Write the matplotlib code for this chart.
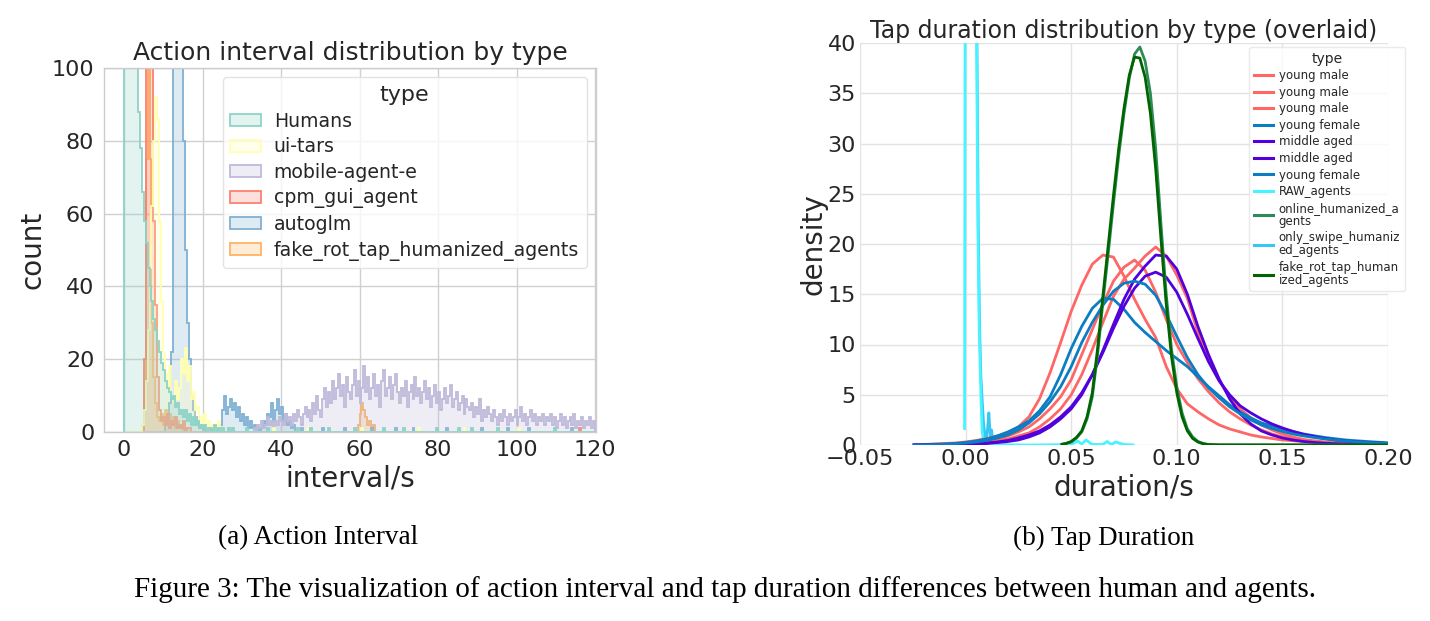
import numpy as np
import matplotlib
matplotlib.use("Agg")
import matplotlib.pyplot as plt
from matplotlib.patches import Patch
from matplotlib.lines import Line2D

# ---------------- Left panel data: histogram counts (bin width 0.5 s) ----------------
bin_width = 0.5
x_max = 120.0
hist_types = ["Humans", "ui-tars", "mobile-agent-e", "cpm_gui_agent", "autoglm",
              "fake_rot_tap_humanized_agents"]
hist_colors = ["#8dd3c7", "#ffffb3", "#bebada", "#fb8072", "#80b1d3", "#fdb462"]

humans_start = 0.0
humans_counts = [420, 390, 330, 260, 200, 150, 104, 88, 78, 66, 58, 52, 45, 40, 36, 31,
                 28, 25, 22, 19, 17, 14, 12, 11, 9, 10, 7, 8, 5, 6, 4, 6, 3, 5, 2, 4,
                 2, 3, 1, 2, 1, 2, 0, 1, 1, 0, 2, 0, 1, 0, 1, 0, 0, 1, 0, 1]
humans_sparse = [31.0, 36.5, 44.0, 47.5, 52.0, 58.5, 66.0, 71.0, 79.5, 85.0, 88.5, 95.0, 109.5]

uitars_start = 4.5
uitars_counts = [2, 6, 14, 28, 45, 62, 80, 92, 86, 58, 36, 22, 16, 12, 18, 10, 8, 14, 9,
                 12, 20, 16, 23, 14, 18, 9, 11, 6, 7, 3, 4, 2, 5, 1, 3, 1, 2, 0, 1, 3, 0, 1]
uitars_sparse = [38.0, 46.5, 60.5, 75.0, 86.5, 100.5]

mobile_start = 33.0
mobile_counts = [1, 0, 2, 1, 3, 1, 2, 4, 2, 3,
                 1, 3, 2, 4, 3, 2, 5, 3, 4, 2,
                 5, 3, 6, 4, 2, 5, 7, 4, 6, 3,
                 8, 5, 10, 6, 4, 9, 12, 7, 11, 8,
                 14, 9, 12, 16, 10, 13, 7, 15, 11, 9,
                 13, 17, 10, 14, 8, 12, 18, 11, 15, 9,
                 12, 16, 10, 13, 7, 14, 17, 10, 12, 15,
                 9, 13, 16, 11, 8, 12, 10, 14, 7, 11,
                 13, 9, 15, 10, 12, 8, 11, 14, 9, 12,
                 7, 10, 13, 8, 11, 6, 9, 12, 8, 10,
                 13, 7, 9, 11, 6, 8, 10, 5, 9, 7,
                 6, 8, 4, 7, 5, 9, 3, 6, 4, 7,
                 5, 3, 6, 4, 2, 5, 3, 6, 4, 2,
                 5, 3, 4, 6, 2, 4, 7, 3, 5, 2,
                 4, 6, 3, 5, 2, 4, 3, 5, 2, 4,
                 3, 5, 2, 4, 1, 3, 5, 2, 4, 1,
                 3, 4, 2, 5, 1, 3, 2, 4, 1, 3,
                 2, 4, 1, 3]

cpm_start = 5.0
cpm_counts = [20, 160, 190, 170, 130, 58, 35, 15, 6, 3, 4, 2, 5, 1, 3, 2, 4, 1, 2, 1, 3, 0, 1, 1]
cpm_sparse = [116.0]

autoglm_start = 10.5
autoglm_counts = [2, 5, 8, 22, 180, 250, 270, 220, 160, 80, 50, 30, 20, 10, 6, 3, 4, 1, 2,
                  0, 1, 0, 0, 1, 0, 0, 0, 1,
                  2, 6, 10, 5, 7, 9, 6, 8, 4, 7, 3, 5, 2, 4, 1, 3, 1, 2, 0, 1, 0, 1,
                  3, 2, 5, 4, 8, 3, 6, 9, 5, 7, 3, 5, 2, 3, 1, 2]
autoglm_sparse = [45.0, 50.5, 56.0, 63.0, 69.0, 73.5, 82.0, 91.0, 97.5, 103.0, 114.0]

fake_start = 5.0
fake_counts = [8, 75, 140, 75, 30, 15, 8, 4, 3, 5, 2, 6, 3, 5, 2, 4, 1, 3, 1, 2, 0, 1]
fake_bump_start = 59.5
fake_bump_counts = [2, 5, 8, 6, 4, 2, 3, 1, 2]

# ---------------- Right panel data: KDE curves ----------------
kde_x = [-0.025, -0.02, -0.015, -0.01, -0.005, 0.0, 0.005, 0.01, 0.015, 0.02, 0.025,
         0.03, 0.035, 0.04, 0.045, 0.05, 0.055, 0.06, 0.065, 0.07, 0.075, 0.08, 0.085,
         0.09, 0.095, 0.1, 0.105, 0.11, 0.115, 0.12, 0.125, 0.13, 0.135, 0.14, 0.145,
         0.15, 0.155, 0.16, 0.165, 0.17, 0.175, 0.18, 0.185, 0.19, 0.195, 0.2]
young_male_1 = [0.0, 0.05, 0.1, 0.15, 0.2, 0.3, 0.45, 0.65, 0.9, 1.15, 1.8,
                2.8, 4.6, 7.2, 10.2, 13.3, 15.9, 18.0, 18.9, 18.7, 16.8, 14.5, 12.5,
                10.7, 7.8, 5.6, 4.1, 3.3, 2.6, 2.0, 1.6, 1.3, 1.0, 0.8, 0.65,
                0.5, 0.42, 0.35, 0.3, 0.25, 0.2, 0.17, 0.13, 0.1, 0.08, 0.06]
young_male_2 = [0.0, 0.0, 0.02, 0.05, 0.08, 0.1, 0.18, 0.3, 0.45, 0.6, 0.9,
                1.2, 1.8, 2.6, 3.6, 5.0, 7.0, 9.5, 12.2, 14.8, 16.5, 17.6, 18.8,
                19.7, 18.8, 16.9, 14.6, 11.2, 8.4, 6.4, 4.8, 3.6, 2.7, 2.0, 1.5,
                1.1, 0.8, 0.55, 0.42, 0.3, 0.22, 0.15, 0.11, 0.08, 0.06, 0.04]
young_male_3 = [0.0, 0.0, 0.03, 0.07, 0.12, 0.2, 0.28, 0.4, 0.6, 0.9, 1.3,
                1.8, 2.6, 3.6, 4.8, 6.5, 9.0, 11.5, 14.0, 16.3, 17.7, 18.4, 17.4,
                15.2, 12.5, 10.0, 8.2, 6.6, 5.3, 4.2, 3.3, 2.6, 2.0, 1.5, 1.1,
                0.8, 0.6, 0.45, 0.33, 0.25, 0.18, 0.13, 0.1, 0.07, 0.05, 0.03]
young_female_1 = [0.0, 0.05, 0.07, 0.1, 0.15, 0.25, 0.4, 0.6, 0.9, 1.3, 1.8,
                  2.4, 3.4, 4.8, 7.0, 9.6, 11.8, 13.6, 14.6, 14.5, 13.5, 12.2, 11.2,
                  10.3, 9.4, 8.6, 7.8, 6.8, 5.8, 4.9, 4.0, 3.3, 2.7, 2.2, 1.9,
                  1.6, 1.35, 1.1, 0.92, 0.75, 0.62, 0.5, 0.42, 0.35, 0.28, 0.22]
young_female_2 = [0.0, 0.0, 0.03, 0.06, 0.12, 0.2, 0.3, 0.45, 0.7, 1.0, 1.5,
                  2.2, 3.1, 4.3, 5.8, 7.8, 10.2, 12.2, 13.9, 15.3, 16.1, 16.3, 16.0,
                  14.9, 13.0, 10.8, 8.7, 7.0, 5.7, 4.7, 3.8, 3.1, 2.5, 2.0, 1.65,
                  1.35, 1.1, 0.9, 0.75, 0.6, 0.5, 0.4, 0.32, 0.25, 0.2, 0.15]
middle_aged_1 = [0.0, 0.0, 0.0, 0.01, 0.03, 0.05, 0.1, 0.15, 0.25, 0.35, 0.5,
                 0.8, 1.2, 1.8, 2.6, 3.6, 5.0, 7.0, 9.4, 12.0, 14.5, 16.5, 17.8,
                 18.9, 18.8, 17.5, 15.0, 11.8, 9.0, 6.6, 4.6, 3.1, 2.1, 1.4, 1.0,
                 0.7, 0.5, 0.35, 0.25, 0.18, 0.13, 0.1, 0.07, 0.05, 0.04, 0.03]
middle_aged_2 = [0.0, 0.0, 0.01, 0.03, 0.06, 0.1, 0.15, 0.2, 0.3, 0.45, 0.7,
                 1.0, 1.4, 2.0, 2.8, 3.8, 5.2, 7.0, 9.2, 11.6, 13.8, 15.6, 16.8,
                 17.2, 16.7, 15.2, 13.0, 10.6, 8.3, 6.4, 5.0, 3.9, 3.2, 2.6, 2.1,
                 1.7, 1.35, 1.05, 0.85, 0.65, 0.5, 0.4, 0.32, 0.25, 0.2, 0.15]

green_x = [0.045, 0.0475, 0.05, 0.0525, 0.055, 0.0575, 0.06, 0.0625, 0.065, 0.0675,
           0.07, 0.0725, 0.075, 0.0775, 0.08, 0.0825, 0.085, 0.0875, 0.09, 0.0925,
           0.095, 0.0975, 0.1, 0.1025, 0.105, 0.1075, 0.11, 0.1125, 0.115, 0.12, 0.2]
online_humanized = [0.05, 0.15, 0.3, 0.7, 1.3, 2.6, 4.8, 9.0, 14.2, 19.0,
                    24.0, 28.8, 33.0, 36.5, 38.9, 39.6, 38.2, 35.0, 29.5, 22.0,
                    15.0, 9.5, 5.8, 3.2, 1.6, 0.8, 0.35, 0.15, 0.05, 0.01, 0.0]
fake_rot_tap = [0.05, 0.15, 0.35, 0.75, 1.4, 2.8, 5.2, 9.6, 14.8, 19.8,
                24.8, 29.5, 33.5, 36.8, 38.6, 38.5, 36.6, 33.0, 27.5, 20.5,
                14.0, 8.8, 5.2, 2.8, 1.4, 0.65, 0.3, 0.12, 0.04, 0.01, 0.0]

raw_x = [-0.0005, -0.0002, 0.0005, 0.0015, 0.003, 0.0045, 0.0052, 0.0058, 0.0064, 0.007,
         0.0074, 0.0078, 0.0084, 0.009, 0.012, 0.02, 0.03, 0.04, 0.05, 0.053, 0.055,
         0.057, 0.06, 0.065, 0.067, 0.069, 0.071, 0.075, 0.08]
raw_agents = [1.5, 48, 90, 120, 100, 60, 40, 22, 12, 7.0,
              4.0, 1.5, 0.4, 0.1, 0.05, 0.02, 0.0, 0.02, 0.05, 0.4, 0.1,
              0.5, 0.05, 0.05, 0.35, 0.05, 0.3, 0.05, 0.0]
swipe_x = [0.0, 0.002, 0.0045, 0.0054, 0.006, 0.0066, 0.0072, 0.0078, 0.0085, 0.0092,
           0.0098, 0.0104, 0.011, 0.0114, 0.0118, 0.0123, 0.0128, 0.0134, 0.014, 0.016,
           0.02]
only_swipe = [45, 80, 60, 40, 22, 12, 7.0, 4.6, 2.2, 0.8,
              0.6, 1.6, 3.2, 1.8, 0.5, 1.5, 0.4, 0.7, 0.1, 0.02, 0.0]

kde_labels = ["young male", "young male", "young male", "young female", "middle aged",
              "middle aged", "young female", "RAW_agents", "online_humanized_a\ngents",
              "only_swipe_humaniz\ned_agents", "fake_rot_tap_human\nized_agents"]
kde_colors = ["#ff6666", "#ff6666", "#ff6666", "#0b7dc3", "#5200dc", "#5200dc",
              "#0b7dc3", "#45f4ff", "#2e8b57", "#38c6f4", "#006400"]

# ---------------- Figure ----------------
W, H = 1430, 621
fig = plt.figure(figsize=(W / 100, H / 100), dpi=100)
plt.rcParams['font.family'] = ['DejaVu Sans']
TXT = "#262626"

def fig_rect(l, t, r, b):
    return [l / W, 1 - b / H, (r - l) / W, (b - t) / H]

# ---- Left axes ----
ax1 = fig.add_axes(fig_rect(104, 68, 596, 432))
edges = np.arange(0, x_max + bin_width / 2, bin_width)
nb = len(edges) - 1

def full_counts(start, counts, sparse=(), extra=None):
    arr = np.zeros(nb)
    i0 = int(round(start / bin_width))
    arr[i0:i0 + len(counts)] += np.array(counts, dtype=float)
    for s in sparse:
        arr[int(round(s / bin_width))] += 1
    if extra is not None:
        st, ct = extra
        j0 = int(round(st / bin_width))
        arr[j0:j0 + len(ct)] += np.array(ct, dtype=float)
    return arr

series = [
    full_counts(humans_start, humans_counts, humans_sparse),
    full_counts(uitars_start, uitars_counts, uitars_sparse),
    full_counts(mobile_start, mobile_counts),
    full_counts(cpm_start, cpm_counts, cpm_sparse),
    full_counts(autoglm_start, autoglm_counts, autoglm_sparse),
    full_counts(fake_start, fake_counts, extra=(fake_bump_start, fake_bump_counts)),
]
for arr, c in reversed(list(zip(series, hist_colors))):
    ax1.stairs(arr, edges, fill=True, color=c, alpha=0.25, lw=0)
    ax1.stairs(arr, edges, color=c, lw=1.3)

ax1.set_xlim(-5.1, 120.25)
ax1.set_ylim(0, 100)
ax1.set_xticks([0, 20, 40, 60, 80, 100, 120])
ax1.set_yticks([0, 20, 40, 60, 80, 100])
ax1.grid(True, color="#d0d0d0", lw=1.0)
ax1.set_axisbelow(True)
for s in ax1.spines.values():
    s.set_color("#cccccc")
    s.set_linewidth(1.0)
ax1.tick_params(axis="both", labelsize=16, length=0, colors=TXT)
ax1.tick_params(axis="x", pad=6)
ax1.tick_params(axis="y", pad=7)
ax1.set_title("Action interval distribution by type", fontsize=18, color=TXT, pad=6)
ax1.set_xlabel("interval/s", fontsize=20, color=TXT, labelpad=3)
ax1.set_ylabel("count", fontsize=20, color=TXT, labelpad=4)
handles1 = [Patch(facecolor=matplotlib.colors.to_rgba(c, 0.25), edgecolor=c, lw=1.3)
            for c in hist_colors]
leg1 = ax1.legend(handles1, hist_types, title="type", loc="upper right", fontsize=13.6,
                  title_fontsize=16, labelspacing=0.35, handlelength=1.6, handleheight=0.6,
                  handletextpad=0.7, borderaxespad=0.5, frameon=True, fancybox=True,
                  borderpad=0.4)
leg1.get_frame().set_edgecolor("#dddddd")
leg1.get_frame().set_alpha(0.8)
for t in leg1.get_texts():
    t.set_color(TXT)
leg1.get_title().set_color(TXT)

# ---- Right axes ----
ax2 = fig.add_axes(fig_rect(860, 43, 1388, 445))
lw = 2.0
curves = [
    (kde_x, young_male_1), (kde_x, young_male_2), (kde_x, young_male_3),
    (kde_x, young_female_1), (kde_x, middle_aged_1), (kde_x, middle_aged_2),
    (kde_x, young_female_2), (raw_x, raw_agents), (green_x, online_humanized),
    (swipe_x, only_swipe), (green_x, fake_rot_tap),
]
order = [9, 7, 0, 1, 2, 3, 4, 5, 6, 8, 10]
for i in order:
    xs, ys = curves[i]
    ax2.plot(xs, ys, color=kde_colors[i], lw=lw, solid_capstyle="butt")

ax2.set_xlim(-0.05, 0.2)
ax2.set_ylim(0, 40)
ax2.set_xticks([-0.05, 0.0, 0.05, 0.10, 0.15, 0.20])
ax2.set_xticklabels(["\u22120.05", "0.00", "0.05", "0.10", "0.15", "0.20"])
ax2.set_yticks([0, 5, 10, 15, 20, 25, 30, 35, 40])
ax2.grid(True, color="#e3e3e3", lw=1.0)
ax2.set_axisbelow(True)
for s in ax2.spines.values():
    s.set_visible(False)
ax2.tick_params(axis="both", labelsize=16, length=0, colors=TXT)
ax2.tick_params(axis="x", pad=3)
ax2.tick_params(axis="y", pad=3)
ax2.set_title("Tap duration distribution by type (overlaid)", fontsize=17,
              color=TXT, pad=2)
ax2.set_xlabel("duration/s", fontsize=20, color=TXT, labelpad=3)
ax2.set_ylabel("density", fontsize=20, color=TXT, labelpad=0)
handles2 = [Line2D([0], [0], color=c, lw=2.2) for c in kde_colors]
leg2 = ax2.legend(handles2, kde_labels, title="type", loc="upper right",
                  bbox_to_anchor=((1405 - 860) / 528, (445 - 47) / 402),
                  borderaxespad=0, fontsize=8.5, title_fontsize=10, labelspacing=0.3,
                  handlelength=1.6, handletextpad=0.5, frameon=True, borderpad=0.4)
leg2.get_frame().set_edgecolor("#e5e5e5")
for t in leg2.get_texts():
    t.set_color(TXT)
    t.set_linespacing(1.0)
leg2.get_title().set_color(TXT)

# ---- Captions ----
serif = ["Liberation Serif", "DejaVu Serif"]
fig.text(318 / W, 1 - 538 / H, "(a) Action Interval", family=serif, fontsize=19.5,
         ha="center", va="center")
fig.text(1104 / W, 1 - 538 / H, "(b) Tap Duration", family=serif, fontsize=19.5,
         ha="center", va="center")
fig.text(725 / W, 1 - 590 / H,
         "Figure 3: The visualization of action interval and tap duration differences "
         "between human and agents.", family=serif, fontsize=21, ha="center", va="center")

fig.savefig("out.png", dpi=100)
